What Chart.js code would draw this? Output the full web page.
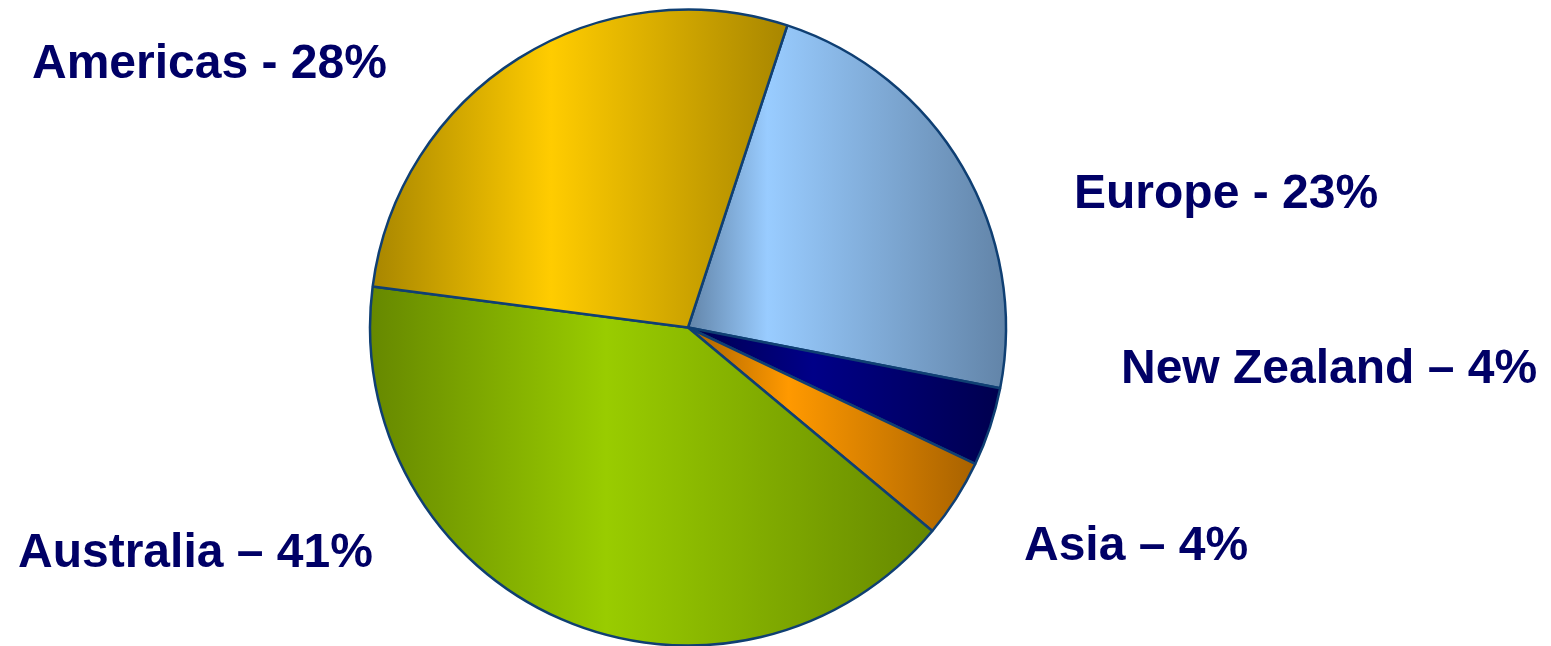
<!DOCTYPE html>
<html>
<head>
<meta charset="utf-8">
<script src="https://cdn.jsdelivr.net/npm/chart.js@4/dist/chart.umd.min.js"></script>
<style>
    html, body { margin: 0; padding: 0; background: #fff; }
    #wrap { width: 1551px; height: 646px; position: relative; }
</style>
</head>
<body>
<div id="wrap"><canvas id="regionChart"></canvas></div>
<script>
    // slices in clockwise order, starting from the Europe edge near 12 o'clock
    const regions = ['Europe', 'New Zealand', 'Asia', 'Australia', 'Americas'];
    const shares = [23, 4, 4, 41, 28];
    const labelText = ['Europe - 23%', 'New Zealand \u2013 4%', 'Asia \u2013 4%', 'Australia \u2013 41%', 'Americas - 28%'];

    // bright middle colour / dark edge colour for the cylinder-like shading
    const lightColors = ['#99CCFF', '#000088', '#FF9900', '#99CC00', '#FFCC00'];
    const darkColors = ['#6284A8', '#00004E', '#A86200', '#668800', '#A88600'];
    const peakAt = [0.25, 0.4, 0.35, 0.42, 0.43];

    const labelPos = [[1074, 208], [1121, 383], [1024, 560], [18, 567], [32, 78]];

    const R = 318;
    const startDeg = 18.2;

    function sliceFill(c) {
        const chart = c.chart, area = chart.chartArea;
        const i = c.dataIndex;
        if (!area) return lightColors[i];
        const cx = (area.left + area.right) / 2;
        const total = shares.reduce((a, b) => a + b, 0);
        let a0 = startDeg - 90;
        for (let k = 0; k < i; k++) a0 += shares[k] / total * 360;
        const a1 = a0 + shares[i] / total * 360;
        let minX = cx, maxX = cx;
        for (let t = 0; t <= 60; t++) {
            const a = (a0 + (a1 - a0) * t / 60) * Math.PI / 180;
            const x = cx + R * Math.cos(a);
            minX = Math.min(minX, x);
            maxX = Math.max(maxX, x);
        }
        const g = chart.ctx.createLinearGradient(minX, 0, maxX, 0);
        g.addColorStop(0, darkColors[i]);
        g.addColorStop(peakAt[i], lightColors[i]);
        g.addColorStop(1, darkColors[i]);
        return g;
    }

    const sliceLabels = {
        id: 'sliceLabels',
        afterDraw(chart) {
            const ctx = chart.ctx;
            ctx.save();
            ctx.font = 'bold 48px "Liberation Sans", Arial, sans-serif';
            ctx.fillStyle = '#000066';
            ctx.textBaseline = 'alphabetic';
            ctx.textAlign = 'left';
            labelText.forEach((t, i) => ctx.fillText(t, labelPos[i][0], labelPos[i][1]));
            ctx.restore();
        }
    };

    new Chart(document.getElementById('regionChart'), {
        type: 'pie',
        data: {
            labels: regions,
            datasets: [{
                data: shares,
                backgroundColor: sliceFill,
                borderColor: '#0F3F73',
                borderWidth: 2.5
            }]
        },
        options: {
            responsive: true,
            maintainAspectRatio: false,
            animation: false,
            rotation: startDeg,
            radius: R,
            layout: { padding: { top: 9, bottom: 0, left: 0, right: 175 } },
            plugins: { legend: { display: false }, tooltip: { enabled: false } }
        },
        plugins: [sliceLabels]
    });
</script>
</body>
</html>
